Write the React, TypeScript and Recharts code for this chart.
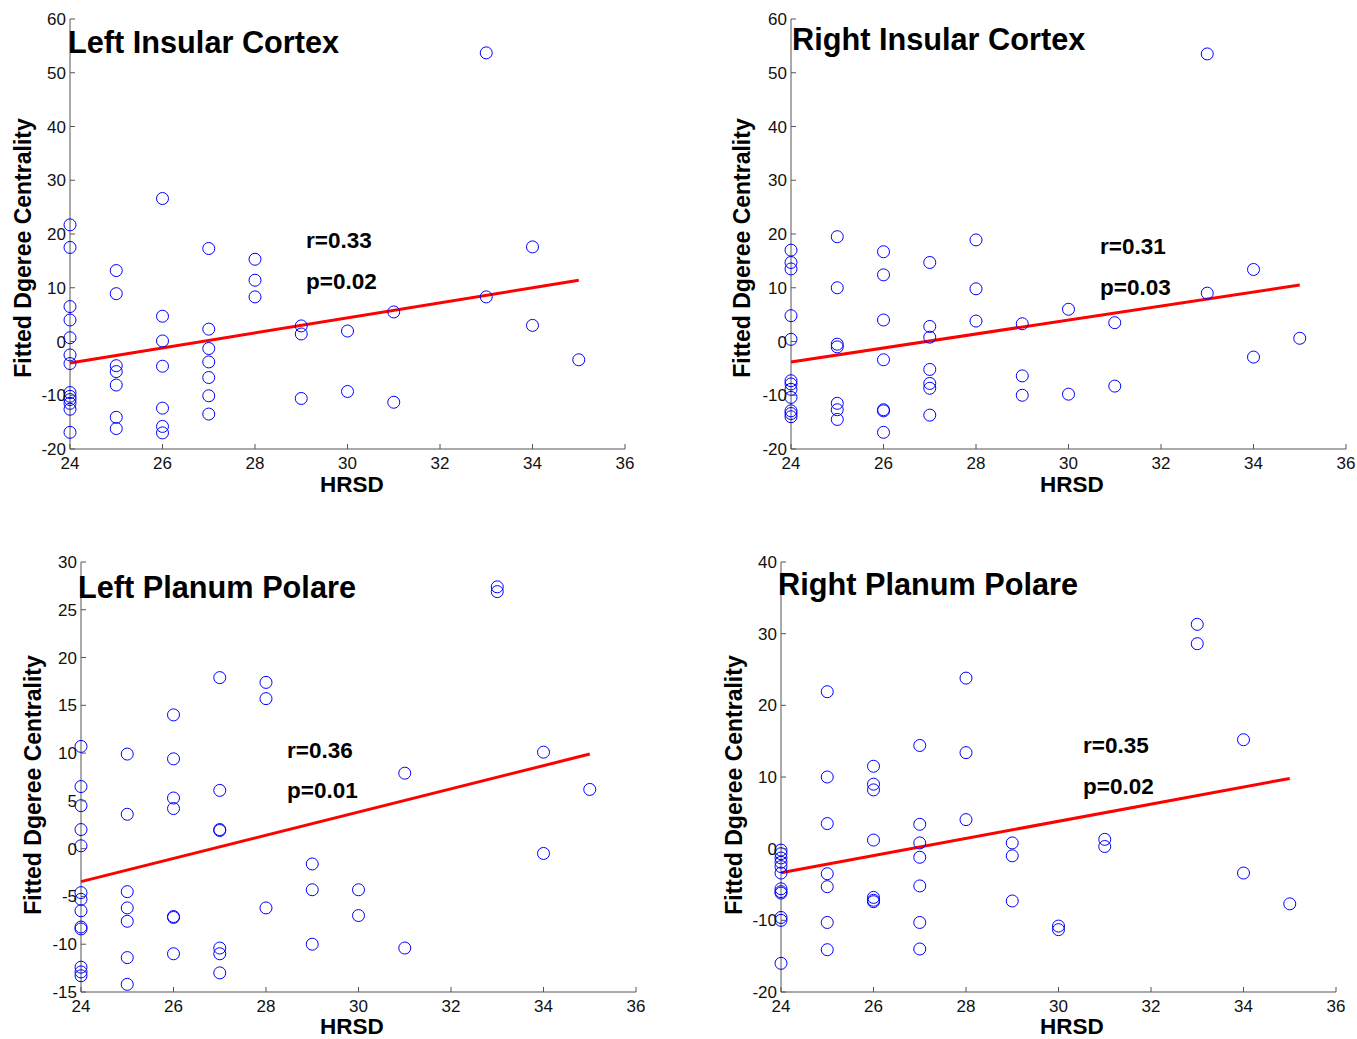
import { ScatterChart, Scatter, XAxis, YAxis, ReferenceLine } from 'recharts';

const HRSD_TICKS = [24, 26, 28, 30, 32, 34, 36];
const INSULAR_TICKS = [-20, -10, 0, 10, 20, 30, 40, 50, 60];
const LPP_TICKS = [-15, -10, -5, 0, 5, 10, 15, 20, 25, 30];
const RPP_TICKS = [-20, -10, 0, 10, 20, 30, 40];

// [HRSD score, fitted degree centrality values at that score]
type Group = [number, number[]];

const LEFT_INSULAR: Group[] = [
  [24, [21.7, 17.5, 6.5, 4.0, 0.7, -2.5, -4.1, -9.5, -10.2, -10.8, -11.5, -12.6, -16.9]],
  [25, [13.2, 8.9, -4.5, -5.6, -8.1, -14.1, -16.2]],
  [26, [26.6, 4.7, 0.1, -4.6, -12.4, -15.8, -17.0]],
  [27, [17.3, 2.3, -1.3, -3.8, -6.7, -10.1, -13.5]],
  [28, [15.3, 11.4, 8.3]],
  [29, [2.9, 1.4, -10.6]],
  [30, [1.95, -9.3]],
  [31, [5.5, -11.3]],
  [33, [53.7, 8.3]],
  [34, [17.6, 3.0]],
  [35, [-3.4]],
];
const LEFT_INSULAR_FIT = [[24, -4.0], [35, 11.4]];

const RIGHT_INSULAR: Group[] = [
  [24, [17.0, 14.7, 13.5, 4.8, 0.4, -7.3, -7.9, -8.9, -10.4, -12.9, -13.4, -14.0]],
  [25, [19.5, 10.0, -0.5, -1.0, -11.5, -12.7, -14.5]],
  [26, [16.7, 12.4, 4.0, -3.4, -12.7, -12.9, -16.9]],
  [27, [14.7, 2.8, 0.8, -5.2, -7.8, -8.7, -13.7]],
  [28, [18.9, 9.8, 3.8]],
  [29, [3.3, -6.4, -10.0]],
  [30, [6.0, -9.8]],
  [31, [3.5, -8.3]],
  [33, [53.5, 9.0]],
  [34, [13.4, -2.9]],
  [35, [0.6]],
];
const RIGHT_INSULAR_FIT = [[24, -3.8], [35, 10.5]];

const LEFT_PLANUM: Group[] = [
  [24, [10.7, 6.5, 4.5, 2.0, 0.3, -4.6, -5.3, -6.5, -8.2, -8.4, -12.4, -12.9, -13.3]],
  [25, [9.9, 3.6, -4.5, -6.2, -7.6, -11.4, -14.2]],
  [26, [14.0, 9.4, 5.3, 4.2, -7.1, -7.2, -11.0]],
  [27, [17.9, 6.1, 2.0, 1.9, -10.4, -11.0, -13.0]],
  [28, [17.4, 15.7, -6.2]],
  [29, [-1.6, -4.3, -10.0]],
  [30, [-4.3, -7.0]],
  [31, [7.9, -10.4]],
  [33, [27.4, 26.9]],
  [34, [10.1, -0.5]],
  [35, [6.2]],
];
const LEFT_PLANUM_FIT = [[24, -3.45], [35, 9.9]];

const RIGHT_PLANUM: Group[] = [
  [24, [-0.2, -0.7, -1.3, -1.9, -2.5, -3.4, -5.6, -6.0, -6.2, -9.6, -10.0, -16.0]],
  [25, [21.9, 10.0, 3.5, -3.5, -5.3, -10.3, -14.1]],
  [26, [11.5, 9.0, 8.2, 1.2, -6.8, -7.2, -7.4]],
  [27, [14.4, 3.4, 0.8, -1.2, -5.2, -10.3, -14.0]],
  [28, [23.8, 13.4, 4.05]],
  [29, [0.8, -1.0, -7.3]],
  [30, [-10.8, -11.3]],
  [31, [1.3, 0.3]],
  [33, [31.3, 28.6]],
  [34, [15.2, -3.4]],
  [35, [-7.7]],
];
const RIGHT_PLANUM_FIT = [[24, -3.35], [35, 9.8]];

const FONT = '"Liberation Sans", Arial, sans-serif';
const AXIS = '#555';

const Ring = (p: any) => (
  <circle cx={p.cx} cy={p.cy} r={6} fill="none" stroke="#0000ff" strokeWidth={1} />
);

const XTick = (p: any) => (
  <g>
    <line x1={p.x} y1={p.y} x2={p.x} y2={p.y - 5} stroke={AXIS} />
    <text x={p.x} y={p.y + 20} textAnchor="middle" fontSize={17} fontFamily={FONT} fill="#111">
      {p.payload.value}
    </text>
  </g>
);

const YTick = (p: any) => (
  <g>
    <line x1={p.x} y1={p.y} x2={p.x + 5} y2={p.y} stroke={AXIS} />
    <text x={p.x - 4} y={p.y + 6} textAnchor="end" fontSize={17} fontFamily={FONT} fill="#111">
      {p.payload.value}
    </text>
  </g>
);

function Panel({ groups, fit, yTicks, left, top }: any) {
  const pts = groups.flatMap(([x, ys]: Group) => ys.map((y) => ({ x, y })));
  return (
    <div style={{ position: 'absolute', left: left - 60, top: top - 10 }}>
      <ScatterChart width={635} height={470} margin={{ top: 10, right: 20, bottom: 0, left: 10 }}>
        <XAxis
          type="number"
          dataKey="x"
          domain={[24, 36]}
          ticks={HRSD_TICKS}
          interval={0}
          tickSize={0}
          tickMargin={0}
          height={30}
          stroke={AXIS}
          tick={XTick}
        />
        <YAxis
          type="number"
          dataKey="y"
          domain={[yTicks[0], yTicks[yTicks.length - 1]]}
          ticks={yTicks}
          interval={0}
          tickSize={0}
          tickMargin={0}
          width={50}
          stroke={AXIS}
          tick={YTick}
        />
        <Scatter data={pts} shape={Ring} isAnimationActive={false} />
        <ReferenceLine
          segment={[{ x: fit[0][0], y: fit[0][1] }, { x: fit[1][0], y: fit[1][1] }]}
          stroke="#ff0000"
          strokeWidth={3}
        />
      </ScatterChart>
    </div>
  );
}

function Labels() {
  const bold = { fontFamily: FONT, fontWeight: 700, fill: '#000' } as const;
  const titles = [
    ['Left Insular Cortex', 68, 53],
    ['Right Insular Cortex', 792, 50],
    ['Left Planum Polare', 78, 598],
    ['Right Planum Polare', 778, 595],
  ] as const;
  const stats = [
    ['r=0.33', 'p=0.02', 306, 248, 289],
    ['r=0.31', 'p=0.03', 1100, 254, 295],
    ['r=0.36', 'p=0.01', 287, 758, 798],
    ['r=0.35', 'p=0.02', 1083, 753, 794],
  ] as const;
  const xl = [[352, 492], [1072, 492], [352, 1034], [1072, 1034]];
  const yl = [[31, 248], [750, 248], [41, 785], [742, 785]];
  return (
    <svg width={1357} height={1039} style={{ position: 'absolute', left: 0, top: 0, pointerEvents: 'none' }}>
      {titles.map(([t, x, y]) => (
        <text key={t} x={x} y={y} fontSize={30.7} {...bold}>{t}</text>
      ))}
      {stats.map(([r, p, x, y1, y2], i) => (
        <g key={i}>
          <text x={x} y={y1} fontSize={22.5} {...bold}>{r}</text>
          <text x={x} y={y2} fontSize={22.5} {...bold}>{p}</text>
        </g>
      ))}
      {xl.map(([x, y], i) => (
        <text key={'x' + i} x={x} y={y} fontSize={22.5} textAnchor="middle" {...bold}>HRSD</text>
      ))}
      {yl.map(([x, y], i) => (
        <text key={'y' + i} x={x} y={y} fontSize={23} textAnchor="middle" transform={`rotate(-90, ${x}, ${y})`} {...bold}>
          Fitted Dgeree Centrality
        </text>
      ))}
    </svg>
  );
}

export default function App() {
  return (
    <div style={{ position: 'relative', width: 1357, height: 1039, background: '#fff', overflow: 'hidden' }}>
      <style>{'body{margin:0}'}</style>
      <Panel groups={LEFT_INSULAR} fit={LEFT_INSULAR_FIT} yTicks={INSULAR_TICKS} left={70} top={19} />
      <Panel groups={RIGHT_INSULAR} fit={RIGHT_INSULAR_FIT} yTicks={INSULAR_TICKS} left={791} top={19} />
      <Panel groups={LEFT_PLANUM} fit={LEFT_PLANUM_FIT} yTicks={LPP_TICKS} left={81} top={562} />
      <Panel groups={RIGHT_PLANUM} fit={RIGHT_PLANUM_FIT} yTicks={RPP_TICKS} left={781} top={562} />
      <Labels />
    </div>
  );
}
